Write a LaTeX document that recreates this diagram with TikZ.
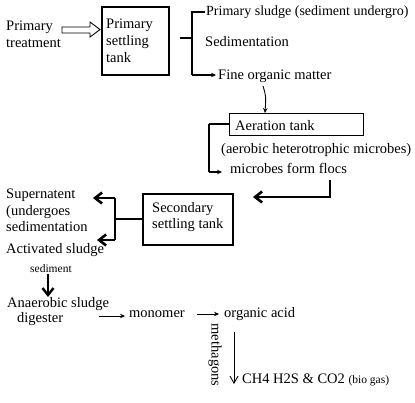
\documentclass[tikz,border=0pt]{standalone}
\usepackage{fontspec}
\setmainfont{Liberation Serif}
\usetikzlibrary{arrows.meta}
\begin{document}
\begin{tikzpicture}[x=1pt,y=-1pt,
 txt/.style={anchor=base west, inner sep=0pt, font=\fontsize{14.5}{17}\selectfont},
 smalltxt/.style={anchor=base west, inner sep=0pt, font=\fontsize{11.5}{13}\selectfont},
 box/.style={draw, line width=1.5pt, inner sep=0pt},
 thinln/.style={line width=0.9pt},
 heavy/.style={line width=2.6pt},
 tip/.style={-{Stealth[length=5pt,width=4.5pt]}},
 vtip/.style={-{Straight Barb[length=7pt,width=11pt]}},
]
\useasboundingbox (0,0) rectangle (415,402);
% primary treatment
\node[txt] (pt1) at (6,30) {Primary};
\node[txt] (pt2) at (6,47) {treatment};
\draw[thinln] (62,27) -- (90,27) -- (90,22) -- (100,29.5) -- (90,37) -- (90,33) -- (62,33) -- cycle;
% primary settling tank
\node[box, minimum width=67pt, minimum height=68pt, anchor=north west] (pst) at (101,6) {};
\node[txt] (pst1) at (106,28) {Primary};
\node[txt] (pst2) at (106,45) {settling};
\node[txt] (pst3) at (106,62) {tank};
% bracket
\coordinate (s0) at (180,38);
\coordinate (s1) at (192,38);
\coordinate (st) at (192,12);
\coordinate (sb) at (192,75);
\coordinate (sps) at (205,12);
\coordinate (sfo) at (216,75);
\draw[line width=1.2pt] (s0) -- (s1);
\draw[line width=1.4pt] (sps) -- (st) -- (sb);
\draw[line width=1.2pt, tip] (sb) -- (sfo);
\node[txt, font=\fontsize{14}{17}\selectfont] (ps) at (206,15) {Primary sludge (sediment undergro)};
\node[txt] (sed) at (205,46) {Sedimentation};
\node[txt] (fom) at (218,79) {Fine organic matter};
% aeration tank
\coordinate (c1) at (263,86);
\node[box, line width=1.3pt, minimum width=134pt, minimum height=22pt, anchor=north west] (aer) at (229,113) {};
\draw[thinln, tip] (c1) .. controls (266,96) .. (aer.north -| 265,0);
\node[txt] (aert) at (235,130) {Aeration tank};
\node[txt] (aerob) at (221,153) {(aerobic heterotrophic microbes)};
\node[txt] (flocs) at (230,173) {microbes form flocs};
\coordinate (a1) at (209,124);
\coordinate (a2) at (209,172);
\coordinate (a3) at (222,172);
\draw[line width=1.2pt] (aer.west |- a1) -- (a1);
\draw[line width=2pt] (a1) -- (a2);
\draw[line width=1.2pt, tip] (a2) -- (a3);
% to secondary
\coordinate (f1) at (330,180);
\coordinate (f2) at (330,197);
\coordinate (f3) at (253,197);
\draw[heavy, vtip] (f1) -- (f2) -- (f3);
\node[box, line width=1.8pt, minimum width=90pt, minimum height=51pt, anchor=north west] (sec) at (142,193) {};
\node[txt] (sec1) at (152,212) {Secondary};
\node[txt] (sec2) at (152,228) {settling tank};
% left bracket
\coordinate (l0) at (115,219);
\coordinate (lt) at (115,198);
\coordinate (lb) at (115,240);
\coordinate (lta) at (93,198);
\coordinate (lba) at (97,240);
\draw[heavy] (sec.west |- l0) -- (l0);
\draw[heavy] (lt) -- (lb);
\draw[heavy, vtip] (lt) -- (lta);
\draw[heavy, vtip] (lb) -- (lba);
\node[txt] (sup1) at (6,198) {Supernatent};
\node[txt] (sup2) at (6,215) {(undergoes};
\node[txt] (sup3) at (6,231) {sedimentation};
\node[txt] (act) at (6,253) {Activated sludge};
\node[smalltxt] (sdm) at (30,272) {sediment};
\coordinate (d1) at (48,274);
\coordinate (d2) at (48,297);
\draw[line width=2.4pt, vtip] (d1) -- (d2);
\node[txt] (ana1) at (7,307) {Anaerobic sludge};
\node[txt] (ana2) at (17,322) {digester};
\coordinate (m0) at (99,316);
\coordinate (m1) at (125,316);
\draw[thinln, tip] (m0) -- (m1);
\node[txt] (mono) at (129,317) {monomer};
\coordinate (o0) at (197,314);
\coordinate (o1) at (219,314);
\draw[thinln, tip] (o0) -- (o1);
\node[txt] (oac) at (224,317) {organic acid};
\node[inner sep=0pt, rotate=-90, font=\fontsize{14.5}{17}\selectfont] (meth) at (215,355) {methagons};
\coordinate (v0) at (234,332);
\coordinate (v1) at (234,384);
\draw[thinln, -{Straight Barb[length=7pt,width=8pt]}] (v0) -- (v1);
\node[txt] (gas) at (242,383) {CH4 H2S \& CO2 {\fontsize{11.5}{13}\selectfont (bio gas)}};
\end{tikzpicture}
\end{document}
